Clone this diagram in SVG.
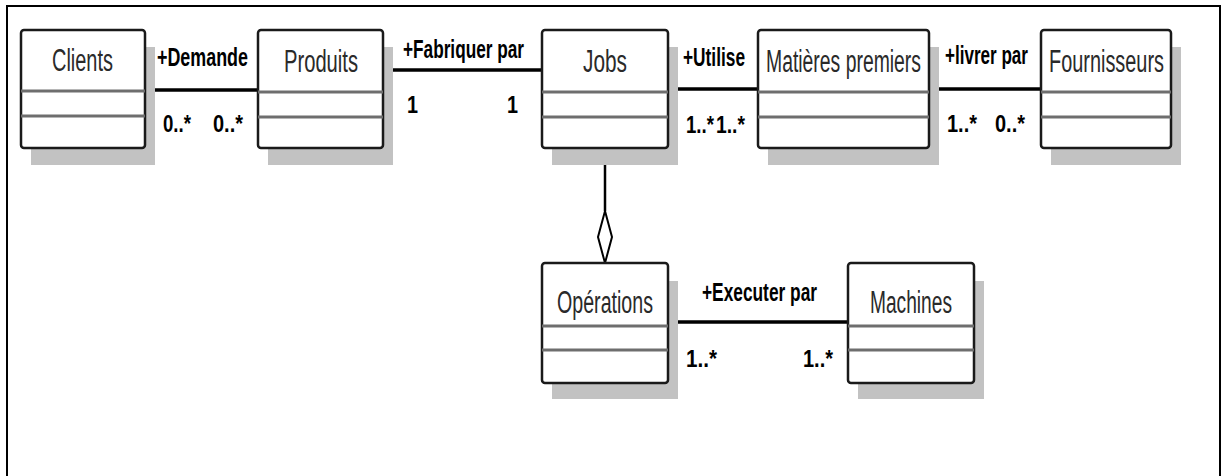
<svg xmlns="http://www.w3.org/2000/svg" width="1228" height="476" viewBox="0 0 1228 476">
<style>
.frame{fill:#fff;stroke:#000;stroke-width:2}
.shadow{fill:#c2c2c2}
.box{fill:#fff;stroke:#1a1a1a;stroke-width:2.5}
.div{stroke:#6e6e6e;stroke-width:3}
.conn{stroke:#000;stroke-width:3.5;fill:none}
.agg{stroke:#000;stroke-width:2;fill:#fff}
.cls{font-family:"Liberation Sans",Arial,sans-serif;font-size:31px;fill:#2a2a2a}
.role{font-family:"Liberation Sans",Arial,sans-serif;font-size:25px;font-weight:bold;fill:#000}
.mult{font-family:"Liberation Sans",Arial,sans-serif;font-size:23px;font-weight:bold;fill:#000}
</style>
<rect width="1228" height="476" fill="#fff"/>
<rect class="frame" x="7" y="6" width="1213" height="480"/>

<g id="connectors">
<line class="conn" x1="145" y1="90" x2="258" y2="90"/>
<line class="conn" x1="383" y1="70" x2="542" y2="70"/>
<line class="conn" x1="668" y1="89" x2="758" y2="89"/>
<line class="conn" x1="929" y1="89" x2="1041" y2="89"/>
<line class="conn" x1="848" y1="322" x2="668" y2="322"/>
<line x1="605" y1="148" x2="605" y2="211" stroke="#000" stroke-width="2.5"/>
<polygon class="agg" points="605,211 612,237 605,263 598,237"/>
<text class="role" x="157" y="66" textLength="91" lengthAdjust="spacingAndGlyphs">+Demande</text>
<text class="mult" x="163" y="132" textLength="28" lengthAdjust="spacingAndGlyphs">0..*</text>
<text class="mult" x="213" y="132" textLength="30" lengthAdjust="spacingAndGlyphs">0..*</text>
<text class="role" x="403" y="58" textLength="121" lengthAdjust="spacingAndGlyphs">+Fabriquer par</text>
<text class="mult" x="407" y="113" textLength="11" lengthAdjust="spacingAndGlyphs">1</text>
<text class="mult" x="507" y="113" textLength="11" lengthAdjust="spacingAndGlyphs">1</text>
<text class="role" x="683" y="66" textLength="62" lengthAdjust="spacingAndGlyphs">+Utilise</text>
<text class="mult" x="686" y="133" textLength="28" lengthAdjust="spacingAndGlyphs">1..*</text>
<text class="mult" x="716" y="133" textLength="29" lengthAdjust="spacingAndGlyphs">1..*</text>
<text class="role" x="945" y="64" textLength="83" lengthAdjust="spacingAndGlyphs">+livrer par</text>
<text class="mult" x="947" y="132" textLength="30" lengthAdjust="spacingAndGlyphs">1..*</text>
<text class="mult" x="995" y="132" textLength="30" lengthAdjust="spacingAndGlyphs">0..*</text>
<text class="role" x="702" y="301" textLength="115" lengthAdjust="spacingAndGlyphs">+Executer par</text>
<text class="mult" x="686" y="367" textLength="31" lengthAdjust="spacingAndGlyphs">1..*</text>
<text class="mult" x="803" y="367" textLength="30" lengthAdjust="spacingAndGlyphs">1..*</text>
</g>

<g id="clients">
<rect class="shadow" x="31" y="47" width="124" height="118"/>
<rect class="box" x="21" y="30" width="124" height="118" rx="3"/>
<line class="div" x1="21" y1="91" x2="145" y2="91"/>
<line class="div" x1="21" y1="116" x2="145" y2="116"/>
<text class="cls" x="52" y="71" textLength="61" lengthAdjust="spacingAndGlyphs">Clients</text>
</g>

<g id="produits">
<rect class="shadow" x="268" y="47" width="125" height="118"/>
<rect class="box" x="258" y="30" width="125" height="118" rx="3"/>
<line class="div" x1="258" y1="92" x2="383" y2="92"/>
<line class="div" x1="258" y1="117" x2="383" y2="117"/>
<text class="cls" x="284" y="72" textLength="74" lengthAdjust="spacingAndGlyphs">Produits</text>
</g>

<g id="jobs">
<rect class="shadow" x="552" y="47" width="126" height="118"/>
<rect class="box" x="542" y="30" width="126" height="118" rx="3"/>
<line class="div" x1="542" y1="92" x2="668" y2="92"/>
<line class="div" x1="542" y1="117" x2="668" y2="117"/>
<text class="cls" x="583" y="72" textLength="44" lengthAdjust="spacingAndGlyphs">Jobs</text>
</g>

<g id="matieres">
<rect class="shadow" x="768" y="47" width="171" height="118"/>
<rect class="box" x="758" y="30" width="171" height="118" rx="3"/>
<line class="div" x1="758" y1="92" x2="929" y2="92"/>
<line class="div" x1="758" y1="117" x2="929" y2="117"/>
<text class="cls" x="766" y="72" textLength="155" lengthAdjust="spacingAndGlyphs">Matières premiers</text>
</g>

<g id="fournisseurs">
<rect class="shadow" x="1051" y="47" width="130" height="118"/>
<rect class="box" x="1041" y="30" width="130" height="118" rx="3"/>
<line class="div" x1="1041" y1="92" x2="1171" y2="92"/>
<line class="div" x1="1041" y1="117" x2="1171" y2="117"/>
<text class="cls" x="1049" y="72" textLength="115" lengthAdjust="spacingAndGlyphs">Fournisseurs</text>
</g>

<g id="operations">
<rect class="shadow" x="552" y="281" width="126" height="118"/>
<rect class="box" x="542" y="263" width="126" height="120" rx="3"/>
<line class="div" x1="542" y1="326" x2="668" y2="326"/>
<line class="div" x1="542" y1="350" x2="668" y2="350"/>
<text class="cls" x="557" y="313" textLength="96" lengthAdjust="spacingAndGlyphs">Opérations</text>
</g>

<g id="machines">
<rect class="shadow" x="858" y="281" width="126" height="118"/>
<rect class="box" x="848" y="263" width="126" height="120" rx="3"/>
<line class="div" x1="848" y1="326" x2="974" y2="326"/>
<line class="div" x1="848" y1="350" x2="974" y2="350"/>
<text class="cls" x="870" y="313" textLength="82" lengthAdjust="spacingAndGlyphs">Machines</text>
</g>
</svg>
